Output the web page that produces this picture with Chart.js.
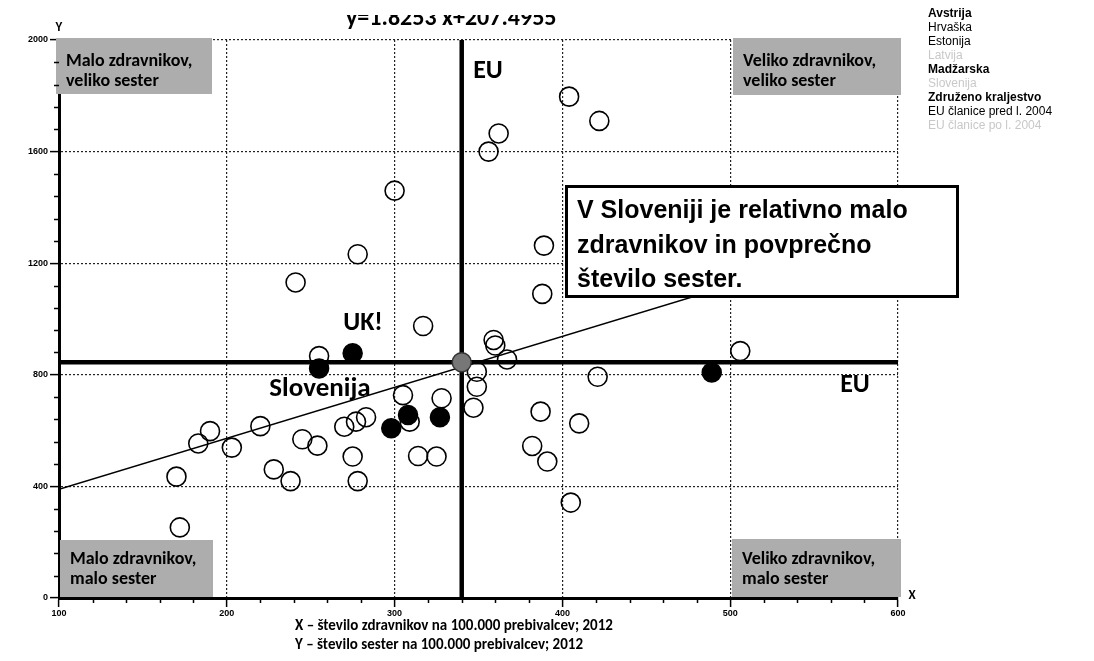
<!DOCTYPE html>
<html>
<head>
<meta charset="utf-8">
<script src="https://cdn.jsdelivr.net/npm/chart.js@4"></script>
<style>
  html, body { margin: 0; padding: 0; background: #fff; }
  #chartDiv { width: 1094px; height: 661px; }
</style>
</head>
<body>
<div id="chartDiv"><canvas id="Chart" width="1094" height="661"></canvas></div>
<script>
// data

// other countries (open circles): doctors / nurses per 100.000
const otherX = [300, 278, 241, 317, 255, 305, 328, 309, 283, 277, 270, 275, 278, 314, 325,
                245, 254, 220, 203, 190, 183, 228, 238, 170, 172, 404, 422, 362, 356, 389,
                388, 359, 360, 367, 349, 349, 347, 421, 506, 387, 410, 382, 391, 405]
const otherY = [1460, 1232, 1131, 975, 867, 727, 716, 632, 648, 632, 614, 507, 419, 509, 507,
                569, 546, 616, 539, 598, 554, 461, 419, 435, 253, 1797, 1710, 1665, 1600, 1263,
                1090, 925, 905, 855, 811, 757, 682, 793, 885, 668, 626, 545, 489, 342]

// highlighted countries (filled circles)
const highlightNames = ["Avstrija", "Hrvaška", "Estonija", "Madžarska", "Slovenija", "Združeno kraljestvo"]
const highlightX = [489, 298, 327, 308, 255, 275]
const highlightY = [808, 608, 648, 656, 823, 877]

// EU average (thick lines)
const euX = [340]
const euY = [845]

// regression line ends
const trendX = [100, 600]
const trendY = [390, 1303]

const xTicks = [100, 200, 300, 400, 500, 600]
const yTicks = [0, 400, 800, 1200, 1600, 2000]

const legendItems = ["Avstrija", "Hrvaška", "Estonija", "Latvija", "Madžarska", "Slovenija",
                     "Združeno kraljestvo", "EU članice pred l. 2004", "EU članice po l. 2004"]
const legendBold = [true, false, false, false, true, false, true, false, false]
const legendFaded = [false, false, false, true, false, true, false, false, true]

const narrow = '"Liberation Sans Narrow", "Carlito", "Open Sans", sans-serif'
const arial = '"Liberation Sans", Arial, sans-serif'

const toPoints = (xs, ys) => xs.map((x, i) => ({x: x, y: ys[i]}))

// minor ticks on both axes
const minorTicks = {
    id: 'minorTicks',
    afterDraw(chart) {
        const {ctx, scales: {x, y}} = chart
        ctx.save()
        ctx.strokeStyle = '#000'
        ctx.lineWidth = 1.5
        ctx.beginPath()
        for (let v = xTicks[0]; v <= xTicks[xTicks.length - 1]; v += 20) {
            if (v % 100 === 0) continue
            const px = Math.round(x.getPixelForValue(v)) + 0.5
            ctx.moveTo(px, x.top)
            ctx.lineTo(px, x.top + 5)
        }
        for (let v = yTicks[0]; v <= yTicks[yTicks.length - 1]; v += 80) {
            if (v % 400 === 0) continue
            const py = Math.round(y.getPixelForValue(v)) + 0.5
            ctx.moveTo(y.right, py)
            ctx.lineTo(y.right - 5, py)
        }
        ctx.stroke()
        ctx.restore()
    }
}

function grayBox(ctx, x, y, w, h, lines, base) {
    ctx.fillStyle = '#adadad'
    ctx.fillRect(x, y, w, h)
    ctx.fillStyle = '#000'
    ctx.font = 'bold 18px ' + narrow
    ctx.textAlign = 'left'
    ctx.textBaseline = 'alphabetic'
    lines.forEach((t, i) => ctx.fillText(t, x + 10, y + base + i * 20))
}

// annotations on top of the plot
const annotations = {
    id: 'annotations',
    afterDatasetsDraw(chart) {
        const ctx = chart.ctx
        ctx.save()

        grayBox(ctx, 56, 38, 156, 56, ["Malo zdravnikov,", "veliko sester"], 28)
        grayBox(ctx, 733, 38, 168, 57, ["Veliko zdravnikov,", "veliko sester"], 28)
        grayBox(ctx, 60, 540, 153, 57, ["Malo zdravnikov,", "malo sester"], 24)
        grayBox(ctx, 732, 539, 169, 58, ["Veliko zdravnikov,", "malo sester"], 25)

        // message box
        ctx.fillStyle = '#fff'
        ctx.fillRect(565, 185, 394, 113)
        ctx.strokeStyle = '#000'
        ctx.lineWidth = 3
        ctx.strokeRect(566.5, 186.5, 391, 110)
        ctx.fillStyle = '#000'
        ctx.font = 'bold 25px ' + arial
        ctx.textAlign = 'left'
        ctx.fillText("V Sloveniji je relativno malo", 577, 218)
        ctx.fillText("zdravnikov in povprečno", 577, 253)
        ctx.fillText("število sester.", 577, 287)

        // labels
        ctx.font = 'bold 26px ' + narrow
        ctx.textAlign = 'center'
        ctx.textBaseline = 'middle'
        ctx.fillText("EU", 488, 71)
        ctx.fillText("EU", 855, 385)
        ctx.fillText("UK!", 363, 323)
        ctx.font = 'bold 27px ' + narrow
        ctx.fillText("Slovenija", 320, 389)

        // axis letters and titles
        ctx.font = 'bold 13px ' + narrow
        ctx.fillText("Y", 59, 28)
        ctx.fillText("X", 912, 596)
        ctx.textAlign = 'left'
        ctx.textBaseline = 'alphabetic'
        ctx.font = 'bold 15px ' + narrow
        ctx.fillText("X – število zdravnikov na 100.000 prebivalcev; 2012", 295, 630)
        ctx.fillText("Y – število sester na 100.000 prebivalcev; 2012", 295, 649)

        // legend
        legendItems.forEach((t, i) => {
            ctx.font = (legendBold[i] ? 'bold ' : '') + '12px ' + arial
            ctx.fillStyle = legendFaded[i] ? '#c8c8c8' : '#000'
            ctx.fillText(t, 928, 17 + i * 14)
        })

        // regression equation, top half cut off
        ctx.save()
        ctx.beginPath()
        ctx.rect(0, 15, 1094, 30)
        ctx.clip()
        ctx.fillStyle = '#000'
        ctx.font = 'bold 24px ' + narrow
        ctx.fillText("y=1.8253 x+207.4955", 346, 25)
        ctx.restore()

        ctx.restore()
    }
}

const ctx = document.getElementById("Chart")
const chart = new Chart(ctx, {
    type: "scatter",
    data: {
        datasets: [{
            label: "Izbrane države",
            data: toPoints(highlightX, highlightY),
            pointRadius: 9.5,
            pointBackgroundColor: "#000",
            pointBorderColor: "#000",
            pointBorderWidth: 1.5,
            },
            {
            label: "EU",
            data: toPoints(euX, euY),
            pointRadius: 9.5,
            pointBackgroundColor: "#777",
            pointBorderColor: "#333",
            pointBorderWidth: 1.5,
            },
            {
            label: "Druge države",
            data: toPoints(otherX, otherY),
            pointRadius: 9.5,
            pointBackgroundColor: "rgba(0,0,0,0)",
            pointBorderColor: "#000",
            pointBorderWidth: 1.6,
            },
            {
            label: "trend",
            data: toPoints(trendX, trendY),
            showLine: true,
            borderColor: "#000",
            borderWidth: 1.5,
            pointRadius: 0,
            },
            {
            label: "EU sestre",
            data: toPoints([xTicks[0], xTicks[xTicks.length - 1]], [euY[0], euY[0]]),
            showLine: true,
            borderColor: "#000",
            borderWidth: 4.5,
            pointRadius: 0,
            },
            {
            label: "EU zdravniki",
            data: toPoints([euX[0], euX[0]], [yTicks[0], yTicks[yTicks.length - 1]]),
            showLine: true,
            borderColor: "#000",
            borderWidth: 4.5,
            pointRadius: 0,
            }],
        },
    options: {
        responsive: false,
        animation: false,
        devicePixelRatio: 1,
        layout: {
            padding: {top: 40, right: 196, left: 0, bottom: 0},
        },
        plugins: {
            legend: {display: false},
            tooltip: {enabled: false},
        },
        scales: {
            x: {
                type: 'linear',
                min: xTicks[0],
                max: xTicks[xTicks.length - 1],
                afterBuildTicks: s => { s.ticks = xTicks.map(v => ({value: v})) },
                afterFit: s => { s.height = 63; s.paddingLeft = 0; s.paddingRight = 0 },
                ticks: {
                    color: '#000',
                    padding: 1,
                    maxRotation: 0,
                    callback: v => String(v),
                    font: {size: 9, weight: 'bold', family: arial},
                },
                grid: {
                    color: c => (c.tick && c.tick.value > xTicks[0]) ? '#222' : 'rgba(0,0,0,0)',
                    lineWidth: 1.2,
                    tickLength: 9,
                    tickColor: '#000',
                    tickWidth: 1.5,
                },
                border: {display: true, color: '#000', width: 3, dash: [2, 2]},
            },
            y: {
                type: 'linear',
                min: yTicks[0],
                max: yTicks[yTicks.length - 1],
                afterBuildTicks: s => { s.ticks = yTicks.map(v => ({value: v})) },
                afterFit: s => { s.width = 59; s.paddingTop = 0; s.paddingBottom = 0 },
                ticks: {
                    color: '#000',
                    padding: 2,
                    callback: v => String(v),
                    font: {size: 9, weight: 'bold', family: arial},
                },
                grid: {
                    color: c => (c.tick && c.tick.value > yTicks[0]) ? '#222' : 'rgba(0,0,0,0)',
                    lineWidth: 1.2,
                    tickLength: 9,
                    tickColor: '#000',
                    tickWidth: 1.5,
                },
                border: {display: true, color: '#000', width: 3, dash: [2, 2]},
            }
        }
    },
    plugins: [annotations, minorTicks]
});
</script>
</body>
</html>
